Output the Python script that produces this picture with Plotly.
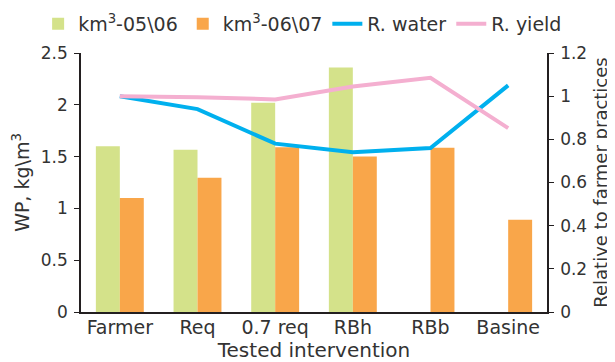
import plotly.graph_objects as go

categories = ["Farmer", "Req", "0.7 req", "RBh", "RBb", "Basine"]
wp_0506 = [1.60, 1.565, 2.02, 2.36, None, None]
wp_0607 = [1.10, 1.295, 1.59, 1.50, 1.585, 0.89]
rel_water = [1.00, 0.94, 0.78, 0.74, 0.76, 1.05]
rel_yield = [1.00, 0.995, 0.985, 1.045, 1.085, 0.852]

FONT = "DejaVu Sans"
TXT = "#333333"
AX = "#231F20"

fig = go.Figure()
fig.add_trace(go.Bar(x=categories, y=wp_0506, name="km<sup>3</sup>-05\\06",
                     marker=dict(color="#D4E28A", line=dict(width=0))))
fig.add_trace(go.Bar(x=categories, y=wp_0607, name="km<sup>3</sup>-06\\07",
                     marker=dict(color="#F9A64A", line=dict(width=0))))
fig.add_trace(go.Scatter(x=categories, y=rel_water, name="R. water", yaxis="y2",
                         mode="lines", line=dict(color="#00B0EE", width=4)))
fig.add_trace(go.Scatter(x=categories, y=rel_yield, name="R. yield", yaxis="y2",
                         mode="lines", line=dict(color="#F4AFD0", width=4)))

fig.update_layout(
    width=607, height=354,
    margin=dict(l=73, r=68, t=45, b=49.5, pad=0, autoexpand=False),
    paper_bgcolor="white", plot_bgcolor="white",
    font=dict(family=FONT, size=18, color=TXT),
    barmode="group", bargap=0.383, bargroupgap=0,
    showlegend=True,
    legend=dict(orientation="h", x=-0.092, xanchor="left", y=1.112, yanchor="middle",
                font=dict(size=19, color=TXT), bgcolor="rgba(0,0,0,0)",
                traceorder="normal", itemwidth=30),
    xaxis=dict(showline=True, linecolor=AX, linewidth=1.5, ticks="",
               showgrid=False, tickfont=dict(size=19), automargin=False,
               ticklabelstandoff=-3,
               title=dict(text="Tested intervention", standoff=9, font=dict(size=20))),
    yaxis=dict(range=[0, 2.5], dtick=0.5, showline=True, linecolor=AX, linewidth=1.5,
               ticks="outside", ticklen=5, tickcolor=AX, showgrid=False, zeroline=False,
               tickfont=dict(size=17), automargin=False, ticklabelstandoff=3,
               title=dict(text="WP, kg\\m<sup>3</sup>", standoff=6, font=dict(size=19))),
    yaxis2=dict(range=[0, 1.2], dtick=0.2, overlaying="y", side="right", showline=True,
                linecolor=AX, linewidth=1.5, ticks="outside", ticklen=5,
                tickcolor=AX, showgrid=False, zeroline=False,
                tickfont=dict(size=17), automargin=False, ticklabelstandoff=3,
                title=dict(text="Relative to farmer practices", standoff=8, font=dict(size=18))),
)

fig.write_html("out.html")
